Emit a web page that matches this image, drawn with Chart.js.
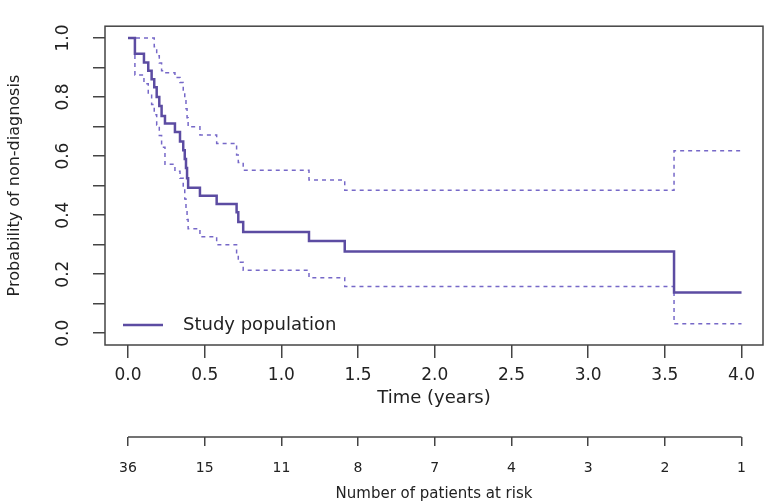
<!DOCTYPE html>
<html>
<head>
<meta charset="utf-8">
<script src="https://cdn.jsdelivr.net/npm/chart.js"></script>
<style>
  body { margin: 0; background: #fff; }
  #chartContainer { width: 768px; height: 503px; }
</style>
</head>
<body>
<div id="chartContainer"><canvas id="chart"></canvas></div>
<script>
// Kaplan-Meier: tempo (anos) e probabilidade de não-diagnóstico
const tempos = [0, 0.045, 0.104, 0.132, 0.154, 0.171, 0.187, 0.204, 0.219, 0.241, 0.306, 0.339, 0.36, 0.37, 0.378, 0.385, 0.392, 0.469, 0.578, 0.708, 0.719, 0.751, 1.18, 1.413, 3.56, 4.0];
const sobrevida = [1.0, 0.947, 0.917, 0.889, 0.86, 0.833, 0.80, 0.77, 0.736, 0.71, 0.682, 0.649, 0.62, 0.59, 0.56, 0.525, 0.493, 0.466, 0.438, 0.41, 0.377, 0.343, 0.312, 0.277, 0.138, 0.138];
const icSuperior = [1.0, 1.0, 1.0, 1.0, 1.0, 0.97, 0.94, 0.915, 0.889, 0.882, 0.866, 0.849, 0.82, 0.79, 0.76, 0.73, 0.699, 0.671, 0.643, 0.604, 0.578, 0.552, 0.519, 0.484, 0.618, 0.618];
const icInferior = [1.0, 0.875, 0.845, 0.81, 0.775, 0.74, 0.705, 0.67, 0.63, 0.572, 0.549, 0.525, 0.49, 0.455, 0.42, 0.385, 0.354, 0.327, 0.30, 0.265, 0.24, 0.213, 0.188, 0.158, 0.032, 0.032];

// eixos
const ticksTempo = [0, 0.5, 1, 1.5, 2, 2.5, 3, 3.5, 4];
const ticksProb = [0, 0.1, 0.2, 0.3, 0.4, 0.5, 0.6, 0.7, 0.8, 0.9, 1.0];
const pacientesEmRisco = [36, 15, 11, 8, 7, 4, 3, 2, 1];

const corCurva = 'rgb(92, 76, 162)';
const corIC = 'rgb(118, 104, 200)';
const corTexto = '#222';
const corEixo = '#444';
const fonte = 'DejaVu Sans';

function pontos(valores) {
  return tempos.map((t, i) => ({ x: t, y: valores[i] }));
}

// caixa do gráfico, linha da tabela de risco e legenda
const extrasPlugin = {
  id: 'extras',
  afterDatasetsDraw(chart) {
    const { ctx, chartArea } = chart;
    ctx.save();
    ctx.strokeStyle = corEixo;
    ctx.lineWidth = 1.5;
    ctx.strokeRect(chartArea.left, chartArea.top, chartArea.right - chartArea.left, chartArea.bottom - chartArea.top);

    const risco = chart.scales.xRisco;
    ctx.beginPath();
    ctx.moveTo(risco.getPixelForValue(ticksTempo[0]), risco.top);
    ctx.lineTo(risco.getPixelForValue(ticksTempo[ticksTempo.length - 1]), risco.top);
    ctx.stroke();

    const ds = chart.data.datasets[0];
    const y = chartArea.bottom - 20;
    const x = chartArea.left + 18;
    ctx.strokeStyle = ds.borderColor;
    ctx.lineWidth = ds.borderWidth;
    ctx.beginPath();
    ctx.moveTo(x, y);
    ctx.lineTo(x + 40, y);
    ctx.stroke();
    ctx.fillStyle = corTexto;
    ctx.font = '18px "' + fonte + '"';
    ctx.textBaseline = 'middle';
    ctx.fillText(ds.label, x + 60, y);
    ctx.restore();
  }
};

const ctx = document.getElementById('chart').getContext('2d');
new Chart(ctx, {
  type: 'line',
  data: {
    datasets: [
      { label: 'Study population', data: pontos(sobrevida), borderColor: corCurva, borderWidth: 2.5, stepped: 'before', pointRadius: 0, fill: false },
      { label: 'Upper CI', data: pontos(icSuperior), borderColor: corIC, borderWidth: 1.5, borderDash: [4, 4], stepped: 'before', pointRadius: 0, fill: false },
      { label: 'Lower CI', data: pontos(icInferior), borderColor: corIC, borderWidth: 1.5, borderDash: [4, 4], stepped: 'before', pointRadius: 0, fill: false }
    ]
  },
  options: {
    responsive: true,
    maintainAspectRatio: false,
    animation: false,
    layout: { padding: { top: 20, right: 5, left: 0, bottom: 0 } },
    plugins: {
      legend: { display: false },
      tooltip: { enabled: false }
    },
    scales: {
      x: {
        type: 'linear',
        position: 'bottom',
        weight: 0,
        min: -0.15,
        max: 4.14,
        afterBuildTicks: (s) => { s.ticks = ticksTempo.map(v => ({ value: v })); },
        afterFit: (s) => { s.height = 92; },
        grid: { drawOnChartArea: false, tickLength: 13, color: corEixo, lineWidth: 1.5 },
        border: { display: false },
        ticks: {
          autoSkip: false, maxRotation: 0, padding: 7, color: corTexto,
          font: { family: fonte, size: 17 },
          callback: (v) => v.toFixed(1)
        },
        title: { display: true, text: 'Time (years)', color: corTexto, font: { family: fonte, size: 18 }, padding: { top: 0, bottom: 28 } }
      },
      xRisco: {
        type: 'linear',
        position: 'bottom',
        weight: 1,
        min: -0.15,
        max: 4.14,
        afterBuildTicks: (s) => { s.ticks = ticksTempo.map(v => ({ value: v })); },
        afterFit: (s) => { s.height = 66; },
        grid: { drawOnChartArea: false, tickLength: 9, color: corEixo, lineWidth: 1.5 },
        border: { display: false },
        ticks: {
          autoSkip: false, maxRotation: 0, padding: 14, color: corTexto,
          font: { family: fonte, size: 14 },
          callback: (v) => {
            const i = ticksTempo.indexOf(v);
            return i >= 0 ? String(pacientesEmRisco[i]) : '';
          }
        },
        title: { display: true, text: 'Number of patients at risk', color: corTexto, font: { family: fonte, size: 15 }, padding: { top: 0, bottom: 0 } }
      },
      y: {
        type: 'linear',
        min: -0.04,
        max: 1.04,
        afterBuildTicks: (s) => { s.ticks = ticksProb.map(v => ({ value: v })); },
        afterFit: (s) => { s.width = 105; },
        grid: { drawOnChartArea: false, tickLength: 12, color: corEixo, lineWidth: 1.5 },
        border: { display: false },
        ticks: {
          autoSkip: false, minRotation: 90, maxRotation: 90, crossAlign: 'center', padding: 16, color: corTexto,
          font: { family: fonte, size: 17 },
          callback: (v) => (Math.round(v * 10) % 2 === 0 ? v.toFixed(1) : '')
        },
        title: { display: true, text: 'Probability of non-diagnosis', color: corTexto, font: { family: fonte, size: 16 }, padding: { top: 5, bottom: 0 } }
      }
    }
  },
  plugins: [extrasPlugin]
});
</script>
</body>
</html>
